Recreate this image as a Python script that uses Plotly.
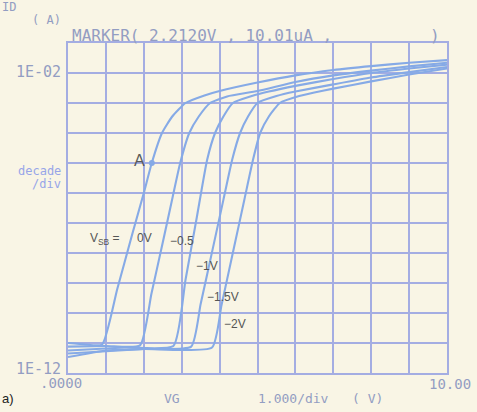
import plotly.graph_objects as go

# ---- data (VG in volts, ID in amperes) ----
vg_0v = [0, 0.45, 0.9, 1.3, 1.7, 2.0, 2.21, 2.48, 2.75, 3.1, 3.6, 4, 5, 6, 7, 8, 9, 10]
id_0v = [1.0e-11, 8.91e-12, 8.91e-12, 6.31e-10, 4.47e-8, 1.0e-6, 1.0e-5, 1.0e-4, 3.55e-4,
         1.0e-3, 1.78e-3, 2.51e-3, 4.79e-3, 8.32e-3, 1.26e-2, 1.70e-2, 2.19e-2, 2.69e-2]

vg_05v = [0, 1.0, 1.9, 2.2, 2.5, 2.75, 2.96, 3.2, 3.45, 3.75, 4.2, 5, 6, 7, 8, 9, 10]
id_05v = [7.59e-12, 7.94e-12, 8.32e-12, 4.27e-10, 2.24e-8, 6.31e-7, 1.0e-5, 1.0e-4, 3.55e-4,
          1.0e-3, 1.66e-3, 2.51e-3, 5.01e-3, 8.32e-3, 1.20e-2, 1.66e-2, 2.19e-2]

vg_1v = [0, 1.5, 2.78, 3.1, 3.4, 3.67, 3.88, 4.1, 4.35, 4.85, 5.3, 6, 7, 8, 9, 10]
id_1v = [5.62e-12, 7.08e-12, 7.94e-12, 1.26e-9, 1.58e-7, 1.26e-5, 1.0e-4, 3.55e-4, 1.0e-3,
         1.70e-3, 2.40e-3, 3.72e-3, 6.31e-3, 1.0e-2, 1.41e-2, 1.91e-2]

vg_15v = [0, 2, 3.25, 3.5, 3.8, 4.1, 4.33, 4.54, 4.75, 5.0, 5.5, 6, 7, 8, 9, 10]
id_15v = [4.47e-12, 6.31e-12, 7.59e-12, 2.0e-10, 1.07e-8, 5.89e-7, 1.26e-5, 1.0e-4, 3.55e-4,
          1.0e-3, 1.70e-3, 2.40e-3, 4.17e-3, 7.08e-3, 1.07e-2, 1.58e-2]

vg_2v = [0, 1, 2, 3.8, 4.05, 4.35, 4.65, 4.88, 5.07, 5.3, 5.59, 6.1, 6.5, 7, 8, 9, 10]
id_2v = [3.39e-12, 5.62e-12, 6.31e-12, 7.08e-12, 1.82e-10, 1.02e-8, 5.75e-7, 1.26e-5, 1.0e-4,
         3.55e-4, 1.0e-3, 1.70e-3, 2.24e-3, 3.02e-3, 5.25e-3, 8.91e-3, 1.41e-2]

marker_vg = [2.212]
marker_id = [1.001e-5]

series = [(vg_0v, id_0v), (vg_05v, id_05v), (vg_1v, id_1v), (vg_15v, id_15v), (vg_2v, id_2v)]

# ---- styling ----
BG = "#f9f5e5"
GRID = "#a4ade2"
CURVE = "#86aae6"
HPTXT = "#939dc2"
MONO = "DejaVu Sans Mono"
SANS = "Liberation Sans"

W, H = 477, 412
L, R, T, B = 68, 447, 43, 373


def px(x):
    return (x - L) / (R - L)


def py(y):
    return (B - y) / (B - T)


fig = go.Figure()
for vg, idv in series:
    fig.add_trace(go.Scatter(x=vg, y=idv, mode="lines",
                             line=dict(color=CURVE, width=2.1, shape="spline", smoothing=0.5),
                             hoverinfo="skip", showlegend=False))

fig.add_trace(go.Scatter(x=marker_vg, y=marker_id, mode="markers",
                         marker=dict(color=CURVE, size=6), showlegend=False))

ann = []


def text(t, x, y, xanchor="left", size=13, color=HPTXT, family=MONO):
    ann.append(dict(text=t, x=px(x), y=py(y), xref="paper", yref="paper",
                    xanchor=xanchor, yanchor="middle", showarrow=False,
                    font=dict(family=family, size=size, color=color)))


text("ID", 0, 7, size=12)
text("( A)", 30, 20, size=12)
text("MARKER( 2.2120V , 10.01uA ,", 70, 36, size=16)
text(")", 428, 36, size=16)
text("1E-02", 63, 72, xanchor="right", size=15)
text("decade", 63, 171, xanchor="right", size=12, color="#97a5e8")
text("/div", 63, 184, xanchor="right", size=12, color="#97a5e8")
text("1E-12", 63, 369, xanchor="right", size=15)
text(".0000", 84, 383, xanchor="right", size=14)
text("10.00", 427, 384, size=14)
text("VG", 162, 398, size=13)
text("1.000/div", 256, 398, size=13)
text("( V)", 350, 398, size=13)
text("a)", 0, 398, size=13, color="#222222", family=SANS)
text("A", 132, 160, size=16, color="#5a5a5a", family=SANS)
text("V<sub>SB</sub> =", 88, 239, size=12, color="#555555", family=SANS)
text("0V", 135, 238, size=12, color="#555555", family=SANS)
text("\u22120.5", 168, 241, size=12, color="#555555", family=SANS)
text("\u22121V", 194, 266, size=12, color="#555555", family=SANS)
text("\u22121.5V", 205, 297, size=12, color="#555555", family=SANS)
text("\u22122V", 222, 324, size=12, color="#555555", family=SANS)

fig.update_layout(
    width=W, height=H,
    margin=dict(l=L, r=W - R, t=T, b=H - B),
    paper_bgcolor=BG, plot_bgcolor=BG,
    annotations=ann,
    showlegend=False,
)
fig.update_xaxes(range=[0, 10], dtick=1, showticklabels=False, showgrid=True,
                 gridcolor=GRID, gridwidth=2, showline=True, linecolor=GRID,
                 linewidth=2, mirror=True, zeroline=False, ticks="")
fig.update_yaxes(type="log", range=[-12, -1], dtick=1, showticklabels=False,
                 showgrid=True, gridcolor=GRID, gridwidth=2, showline=True,
                 linecolor=GRID, linewidth=2, mirror=True, zeroline=False, ticks="")

fig.write_html("out.html", config={"displayModeBar": False},
               post_script="document.body.style.margin='0';document.body.style.background='" + BG + "';")
